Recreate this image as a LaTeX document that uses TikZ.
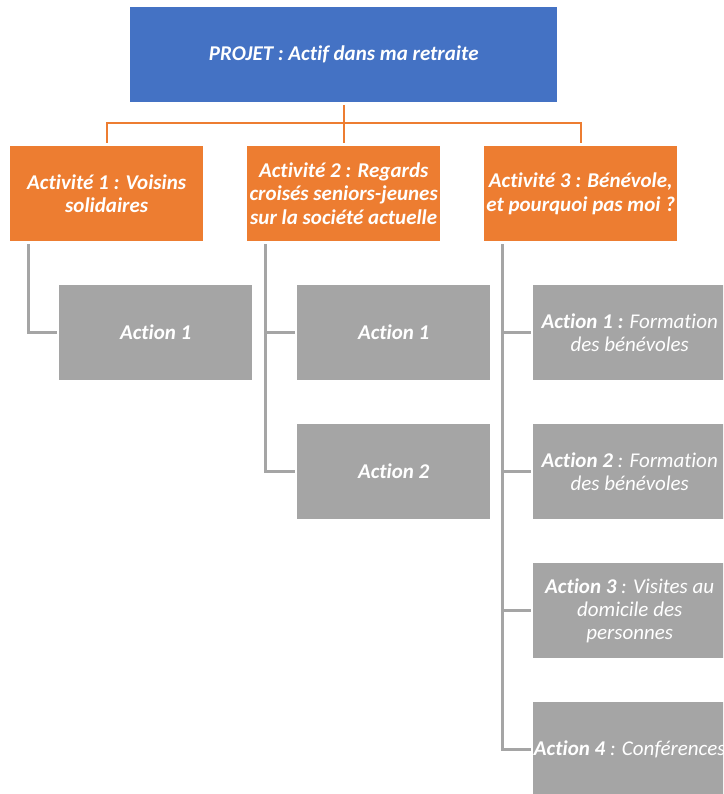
\documentclass[tikz,border=0pt]{standalone}
\usepackage{fontspec}
\setmainfont{Carlito}[Ligatures=NoCommon]
\usetikzlibrary{calc}
\definecolor{blueP}{HTML}{4472C4}
\definecolor{orangeP}{HTML}{ED7D31}
\definecolor{grayP}{HTML}{A5A5A5}
\begin{document}
\begin{tikzpicture}[x=1pt,y=-1pt,
  basebox/.style={draw=none, minimum width=193pt, minimum height=95pt, inner sep=0pt,
    anchor=north west, text=white, align=center,
    font=\fontsize{21}{23.3}\selectfont\bfseries\itshape},
  projbox/.style={basebox, fill=blueP, minimum width=427pt},
  actbox/.style={basebox, fill=orangeP},
  actionbox/.style={basebox, fill=grayP, font=\fontsize{21}{23.3}\selectfont\itshape},
  oline/.style={draw=orangeP, line width=2.2pt, shorten <=3pt, shorten >=3pt},
  gline/.style={draw=grayP, line width=3pt, shorten <=3pt, shorten >=2pt}]
\useasboundingbox (0,0) rectangle (723,794);
\clip (0,0) rectangle (723,794);
\coordinate (bus) at (343.5,123);
\node[projbox] (proj) at (130,7) {PROJET : Actif dans ma retraite};
\node[actbox] (a1) at (10,146) {Activité 1 : Voisins\\solidaires};
\node[actbox] (a2) at (247,146) {Activité 2 : Regards\\croisés seniors-jeunes\\sur la société actuelle};
\node[actbox] (a3) at (484,146) {Activité 3 : Bénévole,\\et pourquoi pas moi ?};
\node[actionbox] (x11) at (59,285) {\textbf{Action 1}};
\node[actionbox] (x21) at (297,285) {\textbf{Action 1}};
\node[actionbox] (x22) at (297,424) {\textbf{Action 2}};
\node[actionbox] (x31) at (533,285) {\textbf{Action 1 :} Formation\\des bénévoles};
\node[actionbox] (x32) at (533,424) {\textbf{Action 2} : Formation\\des bénévoles};
\node[actionbox] (x33) at (533,563) {\textbf{Action 3} : Visites au\\domicile des\\personnes};
\node[actionbox] (x34) at (533,702) {\textbf{Action 4} : Conférences};
% orange connectors
\draw[oline] (proj.south) -- (a2.north);
\draw[oline] (a1.north) |- (bus) -| (a3.north);
% gray connectors
\draw[gline] ($(a1.south west)+(18,0)$) |- (x11.west);
\draw[gline] ($(a2.south west)+(18,0)$) |- (x21.west);
\draw[gline] ($(a2.south west)+(18,0)$) |- (x22.west);
\draw[gline] ($(a3.south west)+(18,0)$) |- (x31.west);
\draw[gline] ($(a3.south west)+(18,0)$) |- (x32.west);
\draw[gline] ($(a3.south west)+(18,0)$) |- (x33.west);
\draw[gline] ($(a3.south west)+(18,0)$) |- (x34.west);
\end{tikzpicture}
\end{document}
